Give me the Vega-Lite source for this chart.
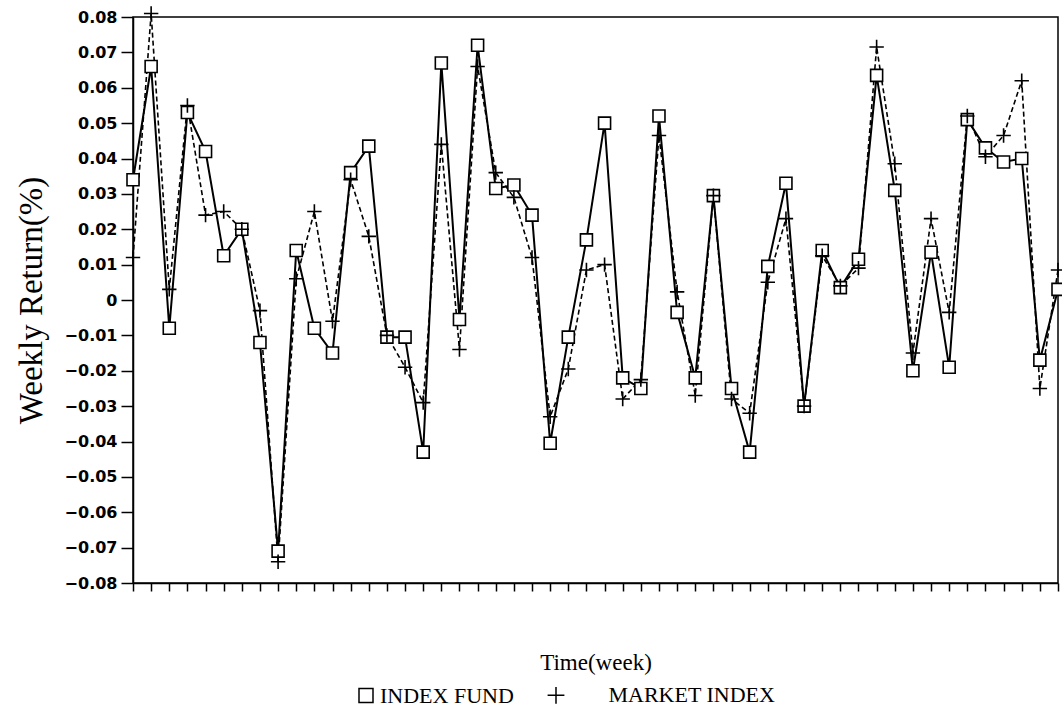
{
  "$schema": "https://vega.github.io/schema/vega-lite/v6.json",
  "width": 925,
  "height": 566,
  "autosize": {"type": "none"},
  "padding": {"left": 133, "top": 17, "right": 4, "bottom": 131},
  "background": "white",
  "config": {
    "view": {"stroke": "black", "strokeWidth": 1.5},
    "axis": {
      "grid": false,
      "domainColor": "black",
      "domainWidth": 1.5,
      "tickColor": "black",
      "tickWidth": 1.5,
      "labelColor": "black",
      "titleColor": "black",
      "titleFont": "Liberation Serif",
      "titleFontWeight": "normal"
    }
  },
  "datasets": {
    "weekly": [
      {"w": 1, "s": "INDEX FUND", "v": 0.034}, {"w": 2, "s": "INDEX FUND", "v": 0.066},
      {"w": 3, "s": "INDEX FUND", "v": -0.008}, {"w": 4, "s": "INDEX FUND", "v": 0.053},
      {"w": 5, "s": "INDEX FUND", "v": 0.042}, {"w": 6, "s": "INDEX FUND", "v": 0.0125},
      {"w": 7, "s": "INDEX FUND", "v": 0.020}, {"w": 8, "s": "INDEX FUND", "v": -0.012},
      {"w": 9, "s": "INDEX FUND", "v": -0.071}, {"w": 10, "s": "INDEX FUND", "v": 0.014},
      {"w": 11, "s": "INDEX FUND", "v": -0.008}, {"w": 12, "s": "INDEX FUND", "v": -0.015},
      {"w": 13, "s": "INDEX FUND", "v": 0.036}, {"w": 14, "s": "INDEX FUND", "v": 0.0435},
      {"w": 15, "s": "INDEX FUND", "v": -0.0105}, {"w": 16, "s": "INDEX FUND", "v": -0.0105},
      {"w": 17, "s": "INDEX FUND", "v": -0.043}, {"w": 18, "s": "INDEX FUND", "v": 0.067},
      {"w": 19, "s": "INDEX FUND", "v": -0.0055}, {"w": 20, "s": "INDEX FUND", "v": 0.072},
      {"w": 21, "s": "INDEX FUND", "v": 0.0315}, {"w": 22, "s": "INDEX FUND", "v": 0.0325},
      {"w": 23, "s": "INDEX FUND", "v": 0.024}, {"w": 24, "s": "INDEX FUND", "v": -0.0405},
      {"w": 25, "s": "INDEX FUND", "v": -0.0105}, {"w": 26, "s": "INDEX FUND", "v": 0.017},
      {"w": 27, "s": "INDEX FUND", "v": 0.050}, {"w": 28, "s": "INDEX FUND", "v": -0.022},
      {"w": 29, "s": "INDEX FUND", "v": -0.025}, {"w": 30, "s": "INDEX FUND", "v": 0.052},
      {"w": 31, "s": "INDEX FUND", "v": -0.0035}, {"w": 32, "s": "INDEX FUND", "v": -0.022},
      {"w": 33, "s": "INDEX FUND", "v": 0.0295}, {"w": 34, "s": "INDEX FUND", "v": -0.025},
      {"w": 35, "s": "INDEX FUND", "v": -0.043}, {"w": 36, "s": "INDEX FUND", "v": 0.0095},
      {"w": 37, "s": "INDEX FUND", "v": 0.033}, {"w": 38, "s": "INDEX FUND", "v": -0.030},
      {"w": 39, "s": "INDEX FUND", "v": 0.014}, {"w": 40, "s": "INDEX FUND", "v": 0.0035},
      {"w": 41, "s": "INDEX FUND", "v": 0.0115}, {"w": 42, "s": "INDEX FUND", "v": 0.0635},
      {"w": 43, "s": "INDEX FUND", "v": 0.031}, {"w": 44, "s": "INDEX FUND", "v": -0.020},
      {"w": 45, "s": "INDEX FUND", "v": 0.0135}, {"w": 46, "s": "INDEX FUND", "v": -0.019},
      {"w": 47, "s": "INDEX FUND", "v": 0.051}, {"w": 48, "s": "INDEX FUND", "v": 0.043},
      {"w": 49, "s": "INDEX FUND", "v": 0.039}, {"w": 50, "s": "INDEX FUND", "v": 0.040},
      {"w": 51, "s": "INDEX FUND", "v": -0.017}, {"w": 52, "s": "INDEX FUND", "v": 0.003},
      {"w": 1, "s": "MARKET INDEX", "v": 0.012}, {"w": 2, "s": "MARKET INDEX", "v": 0.081},
      {"w": 3, "s": "MARKET INDEX", "v": 0.003}, {"w": 4, "s": "MARKET INDEX", "v": 0.055},
      {"w": 5, "s": "MARKET INDEX", "v": 0.024}, {"w": 6, "s": "MARKET INDEX", "v": 0.025},
      {"w": 7, "s": "MARKET INDEX", "v": 0.020}, {"w": 8, "s": "MARKET INDEX", "v": -0.003},
      {"w": 9, "s": "MARKET INDEX", "v": -0.074}, {"w": 10, "s": "MARKET INDEX", "v": 0.006},
      {"w": 11, "s": "MARKET INDEX", "v": 0.025}, {"w": 12, "s": "MARKET INDEX", "v": -0.006},
      {"w": 13, "s": "MARKET INDEX", "v": 0.034}, {"w": 14, "s": "MARKET INDEX", "v": 0.018},
      {"w": 15, "s": "MARKET INDEX", "v": -0.010}, {"w": 16, "s": "MARKET INDEX", "v": -0.019},
      {"w": 17, "s": "MARKET INDEX", "v": -0.029}, {"w": 18, "s": "MARKET INDEX", "v": 0.044},
      {"w": 19, "s": "MARKET INDEX", "v": -0.014}, {"w": 20, "s": "MARKET INDEX", "v": 0.066},
      {"w": 21, "s": "MARKET INDEX", "v": 0.036}, {"w": 22, "s": "MARKET INDEX", "v": 0.029},
      {"w": 23, "s": "MARKET INDEX", "v": 0.012}, {"w": 24, "s": "MARKET INDEX", "v": -0.033},
      {"w": 25, "s": "MARKET INDEX", "v": -0.0195}, {"w": 26, "s": "MARKET INDEX", "v": 0.0085},
      {"w": 27, "s": "MARKET INDEX", "v": 0.010}, {"w": 28, "s": "MARKET INDEX", "v": -0.028},
      {"w": 29, "s": "MARKET INDEX", "v": -0.0225}, {"w": 30, "s": "MARKET INDEX", "v": 0.0465},
      {"w": 31, "s": "MARKET INDEX", "v": 0.0023}, {"w": 32, "s": "MARKET INDEX", "v": -0.027},
      {"w": 33, "s": "MARKET INDEX", "v": 0.0295}, {"w": 34, "s": "MARKET INDEX", "v": -0.028},
      {"w": 35, "s": "MARKET INDEX", "v": -0.032}, {"w": 36, "s": "MARKET INDEX", "v": 0.005},
      {"w": 37, "s": "MARKET INDEX", "v": 0.023}, {"w": 38, "s": "MARKET INDEX", "v": -0.030},
      {"w": 39, "s": "MARKET INDEX", "v": 0.0125}, {"w": 40, "s": "MARKET INDEX", "v": 0.004},
      {"w": 41, "s": "MARKET INDEX", "v": 0.009}, {"w": 42, "s": "MARKET INDEX", "v": 0.0715},
      {"w": 43, "s": "MARKET INDEX", "v": 0.0385}, {"w": 44, "s": "MARKET INDEX", "v": -0.015},
      {"w": 45, "s": "MARKET INDEX", "v": 0.023}, {"w": 46, "s": "MARKET INDEX", "v": -0.0035},
      {"w": 47, "s": "MARKET INDEX", "v": 0.052}, {"w": 48, "s": "MARKET INDEX", "v": 0.0405},
      {"w": 49, "s": "MARKET INDEX", "v": 0.0465}, {"w": 50, "s": "MARKET INDEX", "v": 0.062},
      {"w": 51, "s": "MARKET INDEX", "v": -0.025}, {"w": 52, "s": "MARKET INDEX", "v": 0.0085}
    ]
  },
  "data": {"name": "weekly"},
  "encoding": {
    "x": {
      "field": "w",
      "type": "quantitative",
      "scale": {"domain": [1, 52], "nice": false, "zero": false},
      "axis": {
        "values": [1,2,3,4,5,6,7,8,9,10,11,12,13,14,15,16,17,18,19,20,21,22,23,24,25,26,27,28,29,30,31,32,33,34,35,36,37,38,39,40,41,42,43,44,45,46,47,48,49,50,51,52],
        "labels": false,
        "tickSize": 8,
        "title": "Time(week)",
        "titleFontSize": 23,
        "titlePadding": 60
      }
    },
    "y": {
      "field": "v",
      "type": "quantitative",
      "scale": {"domain": [-0.08, 0.08], "nice": false, "zero": false},
      "axis": {
        "values": [-0.08,-0.07,-0.06,-0.05,-0.04,-0.03,-0.02,-0.01,0,0.01,0.02,0.03,0.04,0.05,0.06,0.07,0.08],
        "labelExpr": "datum.value == 0 ? '0' : format(datum.value, '.2f')",
        "labelFont": "DejaVu Sans",
        "labelFontWeight": "bold",
        "labelFontSize": 16,
        "labelPadding": 4,
        "tickSize": 12,
        "title": "Weekly Return(%)",
        "titleFontSize": 33,
        "titlePadding": 16
      }
    }
  },
  "layer": [
    {
      "data": {"values": [{}]},
      "mark": {"type": "rule", "color": "black", "strokeWidth": 1},
      "encoding": {"x": null, "y": {"datum": 0}}
    },
    {
      "transform": [{"filter": "datum.s == 'INDEX FUND'"}],
      "mark": {"type": "line", "color": "black", "strokeWidth": 2},
      "encoding": {}
    },
    {
      "transform": [{"filter": "datum.s == 'MARKET INDEX'"}],
      "mark": {"type": "line", "color": "black", "strokeWidth": 1.6, "strokeDash": [5, 3]},
      "encoding": {}
    },
    {
      "mark": {"type": "point", "filled": true, "fill": "white", "stroke": "black", "strokeWidth": 1.6, "opacity": 1, "size": 144},
      "encoding": {
        "shape": {
          "field": "s",
          "scale": {"domain": ["INDEX FUND", "MARKET INDEX"], "range": ["square", "M-1.2,0H1.2M0,-1.2V1.2"]},
          "legend": {
            "orient": "none",
            "legendX": 222,
            "legendY": 667,
            "direction": "horizontal",
            "title": null,
            "padding": 0,
            "labelFont": "Liberation Serif",
            "labelFontSize": 22,
            "labelColor": "black",
            "labelOffset": 3,
            "labelLimit": 500,
            "columnPadding": 30,
            "symbolSize": 196,
            "encode": {
              "symbols": {
                "update": {
                  "fill": {"value": "white"},
                  "stroke": {"value": "black"},
                  "strokeWidth": {"value": 1.4},
                  "opacity": {"value": 1}
                }
              }
            },
            "labelExpr": "datum.label == 'MARKET INDEX' ? '\u200b\u00a0\u00a0\u00a0\u00a0\u00a0\u00a0\u00a0MARKET INDEX' : datum.label"
          }
        }
      }
    }
  ]
}
